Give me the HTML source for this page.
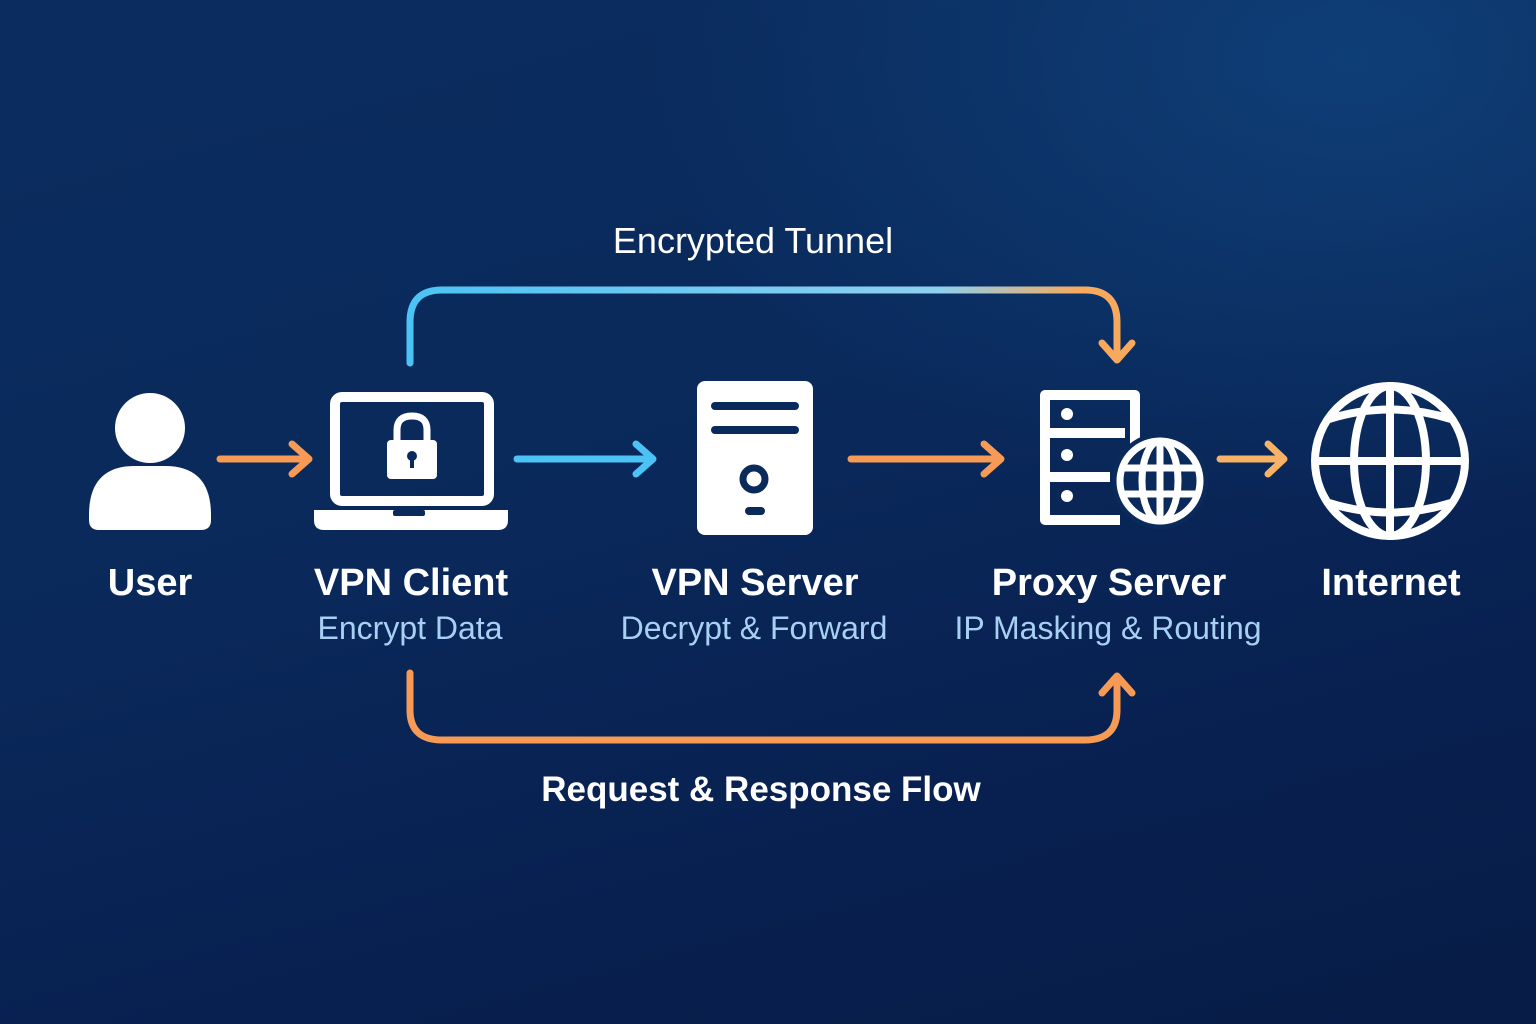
<!DOCTYPE html>
<html><head><meta charset="utf-8"><style>
html,body{margin:0;padding:0}
body{width:1536px;height:1024px;overflow:hidden;background:linear-gradient(165deg,#0b2c5e 0%,#0a2a5c 40%,#082050 75%,#071c46 100%);position:relative;font-family:"Liberation Sans",sans-serif}
.glow{position:absolute;inset:0;background:radial-gradient(ellipse 1000px 650px at 1350px 60px,rgba(20,85,150,.45),transparent 70%)}
</style></head><body><div class="glow"></div>
<svg width="1536" height="1024" style="position:absolute;left:0;top:0">
<defs>
<linearGradient id="tg" x1="410" y1="0" x2="1117" y2="0" gradientUnits="userSpaceOnUse">
<stop offset="0" stop-color="#4cc3f5"/><stop offset="0.75" stop-color="#8fd0ef"/><stop offset="0.95" stop-color="#f7a95e"/><stop offset="1" stop-color="#f7a95e"/></linearGradient>
</defs>
<g fill="none" stroke-linecap="round" stroke-linejoin="round" stroke-width="7">
<path d="M410 363 V322 Q410 290 442 290 H1085 Q1117 290 1117 322 V358" stroke="url(#tg)"/>
<path d="M1102 343 L1117 360 L1132 343" stroke="#f7a95e"/>
<path d="M410 673 V710 Q410 740 442 740 H1085 Q1117 740 1117 710 V678" stroke="#f79a55"/>
<path d="M1102 693 L1117 676 L1132 693" stroke="#f79a55"/>
<path d="M220 459 H308 M292 444 L309 459 L292 474" stroke="#f79a55"/>
<path d="M517 459 H652 M636 444 L653 459 L636 474" stroke="#4cc3f5"/>
<path d="M851 459 H1000 M984 444 L1001 459 L984 474" stroke="#f79a55"/>
<path d="M1220 459 H1283 M1268 444 L1284 459 L1268 474" stroke="#f7b265"/>
</g>
<g fill="#fff">
<circle cx="150" cy="428" r="35"/>
<path d="M89 515 Q89 466 135 466 H165 Q211 466 211 515 V520 Q211 530 201 530 H99 Q89 530 89 520 Z"/>
</g>
<rect x="335" y="397" width="154" height="104" rx="7" fill="none" stroke="#fff" stroke-width="10"/>
<path d="M314 510 H508 V520 Q508 530 498 530 H324 Q314 530 314 520 Z" fill="#fff"/>
<rect x="393" y="510" width="32" height="6" rx="2" fill="#0a2a5c"/>
<path d="M397 440 V430 Q397 416 412 416 Q427 416 427 430 V440" fill="none" stroke="#fff" stroke-width="7"/>
<rect x="387" y="440" width="50" height="39" rx="4" fill="#fff"/>
<circle cx="412" cy="456" r="5" fill="#0a2a5c"/><rect x="410" y="456" width="4" height="12" fill="#0a2a5c"/>
<rect x="697" y="381" width="116" height="154" rx="8" fill="#fff"/>
<g stroke="#0a2a5c" stroke-width="8" stroke-linecap="round">
<line x1="715" y1="406" x2="795" y2="406"/><line x1="715" y1="430" x2="795" y2="430"/>
<line x1="749" y1="511" x2="761" y2="511"/></g>
<circle cx="754" cy="479" r="11" fill="none" stroke="#0a2a5c" stroke-width="7"/>
<g fill="none" stroke="#fff" stroke-width="10" stroke-linejoin="round">
<path d="M1135 447 V395 H1045 V520 H1120"/>
<path d="M1045 433 H1125 M1045 477 H1110"/>
</g>
<g fill="#fff"><circle cx="1067" cy="414" r="6"/><circle cx="1067" cy="455" r="6"/><circle cx="1067" cy="496" r="6"/></g>
<circle cx="1160" cy="481" r="48" fill="#0a2a5c"/>
<g fill="none" stroke="#fff" stroke-width="7">
<circle cx="1160" cy="481" r="40"/>
<ellipse cx="1160" cy="481" rx="18" ry="40"/>
<line x1="1160" y1="441" x2="1160" y2="521"/>
<line x1="1122" y1="468" x2="1198" y2="468"/><line x1="1122" y1="494" x2="1198" y2="494"/>
</g>
<g fill="none" stroke="#fff" stroke-width="8">
<circle cx="1390" cy="461" r="75"/>
<ellipse cx="1390" cy="461" rx="36" ry="75"/>
<line x1="1390" y1="386" x2="1390" y2="536"/>
<line x1="1315" y1="461" x2="1465" y2="461"/>
<path d="M1329 419 Q1390 400 1451 419"/><path d="M1329 503 Q1390 522 1451 503"/>
</g>
<g font-family="Liberation Sans, sans-serif" text-anchor="middle">
<text x="753" y="253" font-size="36" fill="#fff">Encrypted Tunnel</text>
<text x="761" y="801" font-size="35" font-weight="bold" fill="#fff">Request &amp; Response Flow</text>
<g font-size="38" font-weight="bold" fill="#fff">
<text x="150" y="595">User</text><text x="411" y="595">VPN Client</text>
<text x="755" y="595">VPN Server</text><text x="1109" y="595">Proxy Server</text>
<text x="1391" y="595">Internet</text></g>
<g font-size="32" fill="#a7d0f2">
<text x="410" y="639">Encrypt Data</text><text x="754" y="639">Decrypt &amp; Forward</text>
<text x="1108" y="639">IP Masking &amp; Routing</text></g>
</g>
</svg></body></html>
